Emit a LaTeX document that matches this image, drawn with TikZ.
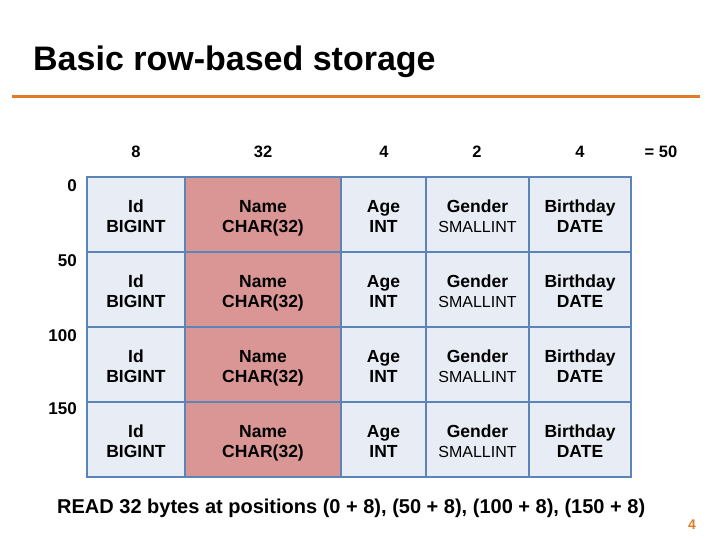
\documentclass[tikz,border=0pt]{standalone}
\usepackage{fontspec}
\setmainfont{Liberation Sans}
\definecolor{rule}{HTML}{E07B28}
\definecolor{cellfill}{HTML}{E8ECF4}
\definecolor{cellline}{HTML}{5B84B8}
\definecolor{namefill}{HTML}{D99694}
\newcommand{\cellst}{\rule[-5bp]{0pt}{26bp}}
\newcommand{\cellsb}{\rule[-5bp]{0pt}{10bp}}
\begin{document}
\begin{tikzpicture}[x=1bp,y=-1bp,
  cell/.style={draw=cellline, line width=1.6bp, fill=cellfill, minimum height=75bp, inner sep=0pt, align=center, font=\fontsize{17.5bp}{20bp}\selectfont\bfseries},
  namecell/.style={cell, fill=namefill},
  hdr/.style={font=\fontsize{16.5bp}{18bp}\selectfont\bfseries, inner sep=0pt},
  rowlbl/.style={font=\fontsize{17bp}{18bp}\selectfont\bfseries, inner sep=0pt, anchor=east}
]
\useasboundingbox (0,0) rectangle (720,540);
\node[anchor=west, inner sep=0pt, font=\fontsize{34bp}{36bp}\selectfont\bfseries] (title) at (33,62) {Basic row-based storage};
\coordinate (rl) at (12,97);
\coordinate (rr) at (700,97);
\draw[rule, line width=3bp] (rl) -- (rr);
% column headers
\node[hdr] (h1) at (136,152) {8};
\node[hdr] (h2) at (263,152) {32};
\node[hdr] (h3) at (384,152) {4};
\node[hdr] (h4) at (477,152) {2};
\node[hdr] (h5) at (580,152) {4};
\node[hdr] (h6) at (661,152) {= 50};
% row labels
\node[rowlbl] (r0) at (77,186) {0};
\node[rowlbl] (r1) at (77,261) {50};
\node[rowlbl] (r2) at (77,336) {100};
\node[rowlbl] (r3) at (77,409) {150};
% cells
\foreach \r/\y in {1/214.5,2/289.5,3/364.5,4/439.5}{
  \node[cell, minimum width=98bp] (c\r-1) at (136,\y) {\cellst Id\\\cellsb BIGINT};
  \node[namecell, minimum width=156bp] (c\r-2) at (263,\y) {\cellst Name\\\cellsb CHAR(32)};
  \node[cell, minimum width=85bp] (c\r-3) at (383.5,\y) {\cellst Age\\\cellsb INT};
  \node[cell, minimum width=103bp] (c\r-4) at (477.5,\y) {\cellst Gender\\\cellsb{\fontsize{16bp}{18bp}\selectfont\mdseries SMALLINT}};
  \node[cell, minimum width=102bp] (c\r-5) at (580,\y) {\cellst Birthday\\\cellsb DATE};
}
\node[anchor=west, inner sep=0pt, font=\fontsize{20bp}{22bp}\selectfont\bfseries] (read) at (57,508) {READ 32 bytes at positions (0 + 8), (50 + 8), (100 + 8), (150 + 8)};
\node[inner sep=0pt, text=rule, font=\fontsize{14bp}{16bp}\selectfont\bfseries] (pg) at (692,525) {4};
\end{tikzpicture}
\end{document}
